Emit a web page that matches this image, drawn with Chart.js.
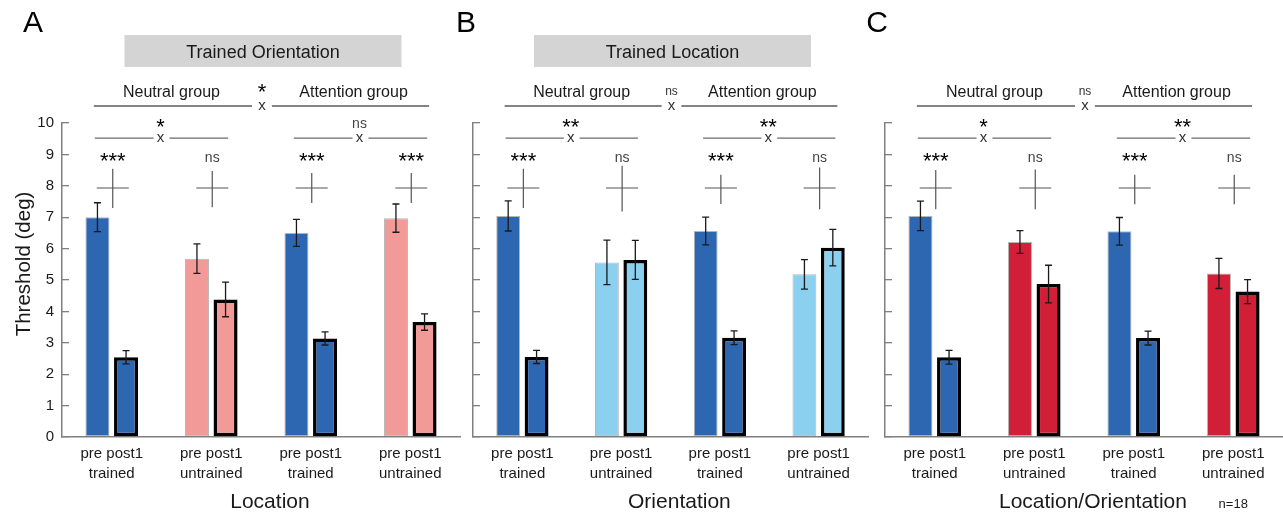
<!DOCTYPE html>
<html><head><meta charset="utf-8">
<script src="https://cdn.jsdelivr.net/npm/chart.js@4"></script>
<style>
html,body{margin:0;padding:0;background:#fff;overflow:hidden}
#wrap{position:relative;width:1283px;height:514px}
canvas{position:absolute;left:0;top:0}
</style></head>
<body><div id="wrap">
<canvas id="cA" width="1283" height="514"></canvas>
<canvas id="cB" width="1283" height="514"></canvas>
<canvas id="cC" width="1283" height="514"></canvas>
</div>
<script>
// ---------- data ----------
const yTicks = [0,1,2,3,4,5,6,7,8,9,10];
const groupLabels = ['Neutral group', 'Attention group'];
const xLabelsA = [['pre post1','trained'],['pre post1','untrained'],['pre post1','trained'],['pre post1','untrained']];

const preA  = [7.00, 5.68, 6.50, 6.97];
const errPreA  = [0.46, 0.47, 0.43, 0.45];
const postA = [2.54, 4.38, 3.14, 3.66];
const errPostA = [0.21, 0.55, 0.21, 0.26];

const preB  = [7.04, 5.56, 6.56, 5.18];
const errPreB  = [0.48, 0.71, 0.44, 0.47];
const postB = [2.55, 5.64, 3.16, 6.03];
const errPostB = [0.21, 0.62, 0.22, 0.58];

const preC  = [7.04, 6.21, 6.55, 5.21];
const errPreC  = [0.47, 0.36, 0.44, 0.48];
const postC = [2.54, 4.87, 3.15, 4.63];
const errPostC = [0.22, 0.60, 0.22, 0.38];

const crossTopA = [8.54, 8.47, 8.41, 8.41];
const crossBotA = [7.29, 7.32, 7.45, 7.45];
const crossTopB = [8.54, 8.64, 8.35, 8.58];
const crossBotB = [7.29, 7.18, 7.42, 7.25];
const crossTopC = [8.50, 8.52, 8.35, 8.35];
const crossBotC = [7.25, 7.25, 7.41, 7.41];

const sigTop  = ['*', 'ns', 'ns'];
const sigPairA = ['*', 'ns'];
const sigPairB = ['**', '**'];
const sigPairC = ['*', '**'];
const sigBarA = ['***', 'ns', '***', '***'];
const sigBarB = ['***', 'ns', '***', 'ns'];
const sigBarC = ['***', 'ns', '***', 'ns'];

const panelLetters = ['A', 'B', 'C'];
const boxTitles = ['Trained Orientation', 'Trained Location', ''];
const axisTitles = ['Location', 'Orientation', 'Location/Orientation'];

// ---------- styles ----------
const BLUE = '#2d66b1', PINK = '#f29a98', LBLUE = '#8bd0ef', RED = '#d01f37';
const colorsA = [BLUE, PINK, BLUE, PINK];
const colorsB = [BLUE, LBLUE, BLUE, LBLUE];
const colorsC = [BLUE, RED, BLUE, RED];
const FONT = '"Liberation Sans", Arial, sans-serif';
const TXT = '#1a1a1a';

function makePanel(canvasId, idx, p) {
  const plugin = {
    id: 'ann' + idx,
    afterDatasetsDraw(chart) {
      const ctx = chart.ctx, ys = chart.scales.y;
      ctx.save();
      ctx.strokeStyle = '#1a1a1a'; ctx.lineWidth = 1.3;
      [[p.pre, p.errPre], [p.post, p.errPost]].forEach(([vals, errs], di) => {
        const meta = chart.getDatasetMeta(di);
        meta.data.forEach((bar, j) => {
          const x = bar.x;
          const y1 = ys.getPixelForValue(vals[j] + errs[j]);
          const y2 = ys.getPixelForValue(vals[j] - errs[j]);
          ctx.beginPath();
          ctx.moveTo(x, y1); ctx.lineTo(x, y2);
          ctx.moveTo(x - 3.5, y1); ctx.lineTo(x + 3.5, y1);
          ctx.moveTo(x - 3.5, y2); ctx.lineTo(x + 3.5, y2);
          ctx.stroke();
        });
      });
      ctx.restore();
    },
    afterDraw(chart) {
      const ctx = chart.ctx, xs = chart.scales.x, ys = chart.scales.y;
      const c0 = xs.getPixelForValue(0), cw = xs.getPixelForValue(1) - c0;
      const X = u => c0 + u * cw;
      const Y = v => ys.getPixelForValue(v);
      ctx.save();
      ctx.textAlign = 'center'; ctx.textBaseline = 'alphabetic';
      const hline = (u1, u2, v) => { ctx.beginPath(); ctx.moveTo(X(u1), Y(v)); ctx.lineTo(X(u2), Y(v)); ctx.stroke(); };
      // panel letter
      ctx.fillStyle = '#000';
      ctx.font = '30px ' + FONT;
      ctx.fillText(panelLetters[idx], p.letterX, 32);
      // gray title box
      if (boxTitles[idx]) {
        const bx = X(1.52);
        ctx.fillStyle = '#d4d4d4';
        ctx.fillRect(bx - 138.5, 35, 277, 32);
        ctx.fillStyle = TXT;
        ctx.font = '18px ' + FONT;
        ctx.fillText(boxTitles[idx], bx, 57.5);
      }
      // group header
      ctx.strokeStyle = '#5a5a5a'; ctx.lineWidth = 1.5;
      ctx.fillStyle = TXT;
      ctx.font = '16px ' + FONT;
      ctx.fillText(groupLabels[0], X(0.6), Y(10.83));
      ctx.fillText(groupLabels[1], X(2.43), Y(10.83));
      hline(-0.18, 1.41, 10.54);
      hline(1.61, 3.19, 10.54);
      ctx.font = '15px ' + FONT;
      ctx.fillStyle = '#333';
      ctx.fillText('x', X(1.51), Y(10.41));
      if (sigTop[idx] === 'ns') { ctx.font = '12px ' + FONT; ctx.fillText('ns', X(1.51), Y(10.88)); }
      else { ctx.font = '22px ' + FONT; ctx.fillStyle = '#000'; ctx.fillText(sigTop[idx], X(1.51), Y(10.76)); }
      // pair comparisons
      ctx.strokeStyle = '#6a6a6a'; ctx.lineWidth = 1.3;
      [0, 2].forEach((s, k) => {
        hline(s - 0.17, s + 0.42, 9.52);
        hline(s + 0.58, s + 1.17, 9.52);
        ctx.fillStyle = '#333'; ctx.font = '15px ' + FONT;
        ctx.fillText('x', X(s + 0.49), Y(9.39));
        const sg = p.sigPair[k];
        if (sg === 'ns') { ctx.fillStyle = '#444'; ctx.font = '14px ' + FONT; ctx.fillText(sg, X(s + 0.49), Y(9.84)); }
        else { ctx.fillStyle = '#000'; ctx.font = '22px ' + FONT; ctx.fillText(sg, X(s + 0.49), Y(9.64)); }
      });
      // per-group significance and crosses
      for (let j = 0; j < 4; j++) {
        const sg = p.sigBar[j];
        if (sg === 'ns') { ctx.fillStyle = '#444'; ctx.font = '14px ' + FONT; ctx.fillText(sg, X(j) + 1, Y(8.76)); }
        else { ctx.fillStyle = '#000'; ctx.font = '22px ' + FONT; ctx.fillText(sg, X(j) + 1, Y(8.57)); }
        ctx.strokeStyle = '#555'; ctx.lineWidth = 1.2;
        ctx.beginPath();
        ctx.moveTo(X(j) - 15, Y(7.93)); ctx.lineTo(X(j) + 17, Y(7.93));
        ctx.moveTo(X(j) + 1, Y(p.crossTop[j])); ctx.lineTo(X(j) + 1, Y(p.crossBot[j]));
        ctx.stroke();
      }
      // axis title
      ctx.fillStyle = TXT;
      ctx.font = '21px ' + FONT;
      ctx.fillText(axisTitles[idx], X(1.59), 508);
      if (idx === 0) {
        ctx.save();
        ctx.translate(24, 264);
        ctx.rotate(-Math.PI / 2);
        ctx.textBaseline = 'middle';
        ctx.font = '20.5px ' + FONT;
        ctx.fillText('Threshold (deg)', 0, 0);
        ctx.restore();
      }
      if (idx === 2) {
        ctx.font = '13px ' + FONT;
        ctx.fillText('n=18', X(3.0), 508);
      }
      ctx.restore();
    }
  };

  return new Chart(document.getElementById(canvasId), {
    type: 'bar',
    data: {
      labels: p.labels,
      datasets: [
        { label: 'pre', data: p.pre, backgroundColor: p.colors, borderColor: 'rgba(120,120,120,0.55)', borderWidth: 1, borderSkipped: false },
        { label: 'post1', data: p.post, backgroundColor: p.colors, borderColor: '#000', borderWidth: 3.5, borderSkipped: false }
      ]
    },
    options: {
      responsive: false, animation: false, devicePixelRatio: 1,
      categoryPercentage: 0.575, barPercentage: 0.84,
      layout: { padding: { left: p.padL, right: p.padR, top: 123, bottom: 0 } },
      plugins: { legend: { display: false }, tooltip: { enabled: false } },
      scales: {
        x: {
          grid: { display: false },
          border: { display: true, color: '#808080', width: 1.5 },
          ticks: { color: TXT, font: { family: FONT, size: 15, lineHeight: 1.33 }, padding: -1, maxRotation: 0, autoSkip: false },
          afterFit(s) { s.height = 77; }
        },
        y: {
          min: 0, max: 10,
          afterBuildTicks(s) { s.ticks = yTicks.map(v => ({ value: v })); },
          grid: { display: true, drawOnChartArea: false, drawTicks: true, tickLength: -7, color: '#808080', lineWidth: 1.3 },
          border: { display: true, color: '#808080', width: 1.5 },
          ticks: { display: p.showY, color: TXT, font: { family: FONT, size: 15 }, padding: 15 },
          afterFit(s) { s.width = p.yW; }
        }
      }
    },
    plugins: [plugin]
  });
}

makePanel('cA', 0, { labels: xLabelsA, pre: preA, errPre: errPreA, post: postA, errPost: errPostA, colors: colorsA,
  crossTop: crossTopA, crossBot: crossBotA, sigPair: sigPairA, sigBar: sigBarA,
  padL: 0, padR: 1283 - 460, yW: 62, showY: true, letterX: 33 });
makePanel('cB', 1, { labels: xLabelsA, pre: preB, errPre: errPreB, post: postB, errPost: errPostB, colors: colorsB,
  crossTop: crossTopB, crossBot: crossBotB, sigPair: sigPairB, sigBar: sigBarB,
  padL: 463, padR: 1283 - 868, yW: 10, showY: false, letterX: 466 });
makePanel('cC', 2, { labels: xLabelsA, pre: preC, errPre: errPreC, post: postC, errPost: errPostC, colors: colorsC,
  crossTop: crossTopC, crossBot: crossBotC, sigPair: sigPairC, sigBar: sigBarC,
  padL: 875, padR: 0, yW: 10, showY: false, letterX: 877 });
</script>
</body></html>
